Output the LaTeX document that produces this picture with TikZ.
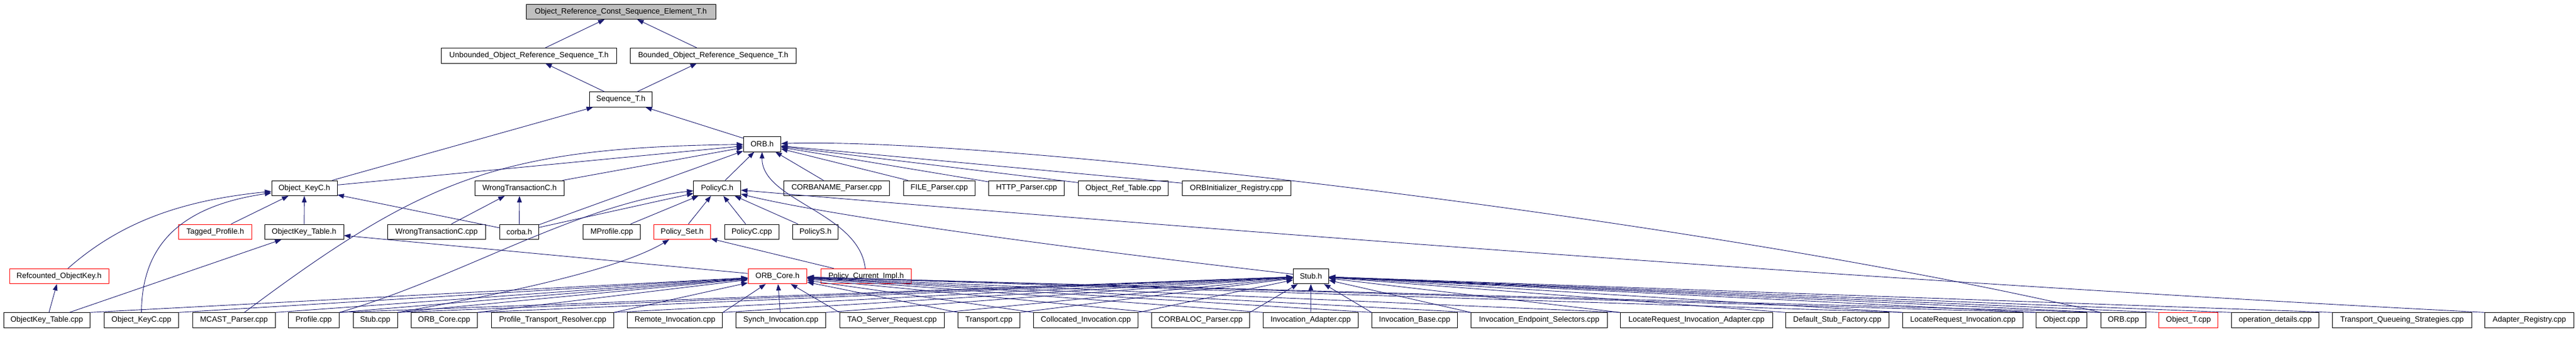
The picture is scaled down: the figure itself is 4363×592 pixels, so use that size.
\documentclass[tikz,border=0pt]{standalone}
\usepackage{fontspec}
\setmainfont{Liberation Sans}
\usetikzlibrary{arrows.meta}
\definecolor{edgeblue}{HTML}{191970}
\definecolor{titlegray}{HTML}{BFBFBF}
\definecolor{boxred}{HTML}{FF0000}
\newcommand\bx[6]{\node[box,#6,minimum width={(#3)-(#2)}] (#1) at ({((#2)+(#3))/2},#4) {#5};}
\begin{document}
\begin{tikzpicture}[x=1pt,y=-1pt,
 box/.style={draw=black,line width=0.9pt,minimum height=25.5pt,inner sep=0pt,font=\fontsize{13}{15}\selectfont,fill=white},
 redbox/.style={draw=boxred},
 edge/.style={draw=edgeblue,line width=0.9pt,-{Triangle[length=11pt,width=8pt]}}]
\useasboundingbox (0,0) rectangle (4363,592);
% level 0-3
\bx{T}{891}{1212}{19.75}{Object\_Reference\_Const\_Sequence\_Element\_T.h}{fill=titlegray}
\bx{U}{747.5}{1044.5}{94.25}{Unbounded\_Object\_Reference\_Sequence\_T.h}{}
\bx{B}{1067.3}{1348.6}{94.25}{Bounded\_Object\_Reference\_Sequence\_T.h}{}
\bx{S}{998.4}{1104.6}{168.5}{Sequence\_T.h}{}
\bx{ORBh}{1259.2}{1322.5}{244.25}{ORB.h}{}
% level 4
\bx{OKC}{460}{571}{318.75}{Object\_KeyC.h}{}
\bx{WTC}{804.3}{955.6}{318.75}{WrongTransactionC.h}{}
\bx{PCh}{1174.9}{1254.5}{318.75}{PolicyC.h}{}
\bx{CORBANAME}{1327.6}{1506.6}{318.75}{CORBANAME\_Parser.cpp}{}
\bx{FILE}{1530.3}{1651.4}{318.75}{FILE\_Parser.cpp}{}
\bx{HTTP}{1674.7}{1802.7}{318.75}{HTTP\_Parser.cpp}{}
\bx{ORT}{1826.4}{1978.7}{318.75}{Object\_Ref\_Table.cpp}{}
\bx{ORBIR}{2002.4}{2186.5}{318.75}{ORBInitializer\_Registry.cpp}{}
% level 5
\bx{TP}{302.6}{426.5}{392.75}{Tagged\_Profile.h}{redbox}
\bx{OKT}{448}{582}{392.75}{ObjectKey\_Table.h}{}
\bx{WTCcpp}{656.5}{822.4}{392.75}{WrongTransactionC.cpp}{}
\bx{corba}{846.6}{912.3}{392.75}{corba.h}{}
\bx{MProfile}{987.7}{1084.6}{392.75}{MProfile.cpp}{}
\bx{PSet}{1107.4}{1203.3}{392.75}{Policy\_Set.h}{redbox}
\bx{PCcpp}{1227}{1319.7}{392.75}{PolicyC.cpp}{}
\bx{PSh}{1342.5}{1419.8}{392.75}{PolicyS.h}{}
% level 6
\bx{ROK}{16}{184}{468}{Refcounted\_ObjectKey.h}{redbox}
\bx{ORBCore}{1267}{1366.7}{468}{ORB\_Core.h}{redbox}
\bx{PCI}{1390.5}{1543.4}{468}{Policy\_Current\_Impl.h}{redbox}
\bx{Stubh}{2190.3}{2250.3}{468}{Stub.h}{}
% level 7
\bx{OKTcpp}{6.5}{152}{542.5}{ObjectKey\_Table.cpp}{}
\bx{OKCcpp}{176.5}{302.6}{542.5}{Object\_KeyC.cpp}{}
\bx{MCAST}{326}{466.5}{542.5}{MCAST\_Parser.cpp}{}
\bx{Profile}{488}{574.5}{542.5}{Profile.cpp}{}
\bx{Stubcpp}{598}{673}{542.5}{Stub.cpp}{}
\bx{ORBCorecpp}{696}{808.5}{542.5}{ORB\_Core.cpp}{}
\bx{PTR}{832.7}{1039.4}{542.5}{Profile\_Transport\_Resolver.cpp}{}
\bx{Remote}{1062.7}{1223.8}{542.5}{Remote\_Invocation.cpp}{}
\bx{Synch}{1246.6}{1398.4}{542.5}{Synch\_Invocation.cpp}{}
\bx{TAOSR}{1422.1}{1599.7}{542.5}{TAO\_Server\_Request.cpp}{}
\bx{Transport}{1622.5}{1727.3}{542.5}{Transport.cpp}{}
\bx{Colloc}{1750.6}{1927.5}{542.5}{Collocated\_Invocation.cpp}{}
\bx{CORBALOC}{1950.3}{2116.5}{542.5}{CORBALOC\_Parser.cpp}{}
\bx{InvAd}{2139.3}{2300.6}{542.5}{Invocation\_Adapter.cpp}{}
\bx{InvBase}{2323.4}{2468.7}{542.5}{Invocation\_Base.cpp}{}
\bx{IES}{2491.5}{2722.4}{542.5}{Invocation\_Endpoint\_Selectors.cpp}{}
\bx{LRIA}{2744.3}{3002.5}{542.5}{LocateRequest\_Invocation\_Adapter.cpp}{}
\bx{DSF}{3024.3}{3199.4}{542.5}{Default\_Stub\_Factory.cpp}{}
\bx{LRI}{3222.7}{3426.6}{542.5}{LocateRequest\_Invocation.cpp}{}
\bx{Objcpp}{3448.5}{3534.6}{542.5}{Object.cpp}{}
\bx{ORBcpp}{3558.4}{3634.5}{542.5}{ORB.cpp}{}
\bx{ObjT}{3656.4}{3756.7}{542.5}{Object\_T.cpp}{redbox}
\bx{OpDet}{3779.6}{3927.5}{542.5}{operation\_details.cpp}{}
\bx{TQS}{3950.4}{4186.4}{542.5}{Transport\_Queueing\_Strategies.cpp}{}
\bx{AdReg}{4208.3}{4359.6}{542.5}{Adapter\_Registry.cpp}{}
% edges upper part
\draw[edge] (U) -- (T);
\draw[edge] (B) -- (T);
\draw[edge] (S) -- (U);
\draw[edge] (S) -- (B);
\draw[edge] (OKC) -- (S);
\draw[edge] (ORBh) -- (S);
\draw[edge] (OKC) -- (ORBh);
\draw[edge] (MCAST) .. controls (720,300) and (850,250) .. (ORBh);
\draw[edge] (WTC) -- (ORBh);
\draw[edge] (corba) -- (ORBh);
\draw[edge] (PCh) -- (ORBh);
\draw[edge] (CORBANAME) -- (ORBh);
\draw[edge] (FILE) -- (ORBh);
\draw[edge] (HTTP) -- (ORBh);
\draw[edge] (ORT) -- (ORBh);
\draw[edge] (ORBIR) -- (ORBh);
\draw[edge] (PCI) .. controls (1455,360) and (1290,340) .. (ORBh);
\draw[edge] (ORBcpp.north west) .. controls (2900,375) and (1700,232) .. (ORBh);
\draw[edge] (ROK) .. controls (200,380) and (300,340) .. (OKC);
\draw[edge] (OKCcpp) .. controls (240,420) and (300,350) .. (OKC);
\draw[edge] (TP) -- (OKC);
\draw[edge] (OKT) -- (OKC);
\draw[edge] (corba) -- (OKC);
\draw[edge] (WTCcpp) -- (WTC);
\draw[edge] (corba) -- (WTC);
\draw[edge] (corba) -- (PCh);
\draw[edge] (Profile.north east) .. controls (780,470) and (980,345) .. (PCh);
\draw[edge] (MProfile) -- (PCh);
\draw[edge] (PSet) -- (PCh);
\draw[edge] (PCcpp) -- (PCh);
\draw[edge] (PSh) -- (PCh);
\draw[edge] (Stubh) .. controls (1800,420) and (1400,365) .. (PCh);
\draw[edge] (AdReg.north west) .. controls (3000,468) and (1700,360) .. (PCh);
\draw[edge] (OKTcpp) -- (OKT);
\draw[edge] (ORBCore) -- (OKT);
\draw[edge] (OKTcpp) -- (ROK);
\draw[edge] (PCI) -- (PSet);
\draw[edge] (Stubcpp.north east) .. controls (900,490) and (1060,450) .. (PSet);
% fan into ORB_Core.h
\foreach \n in {OKTcpp,OKCcpp,MCAST,Profile,Stubcpp,ORBCorecpp,PTR,Remote}
  \draw[edge] (\n.north east) -- (ORBCore);
\draw[edge] (Synch) -- (ORBCore);
\foreach \n in {TAOSR,Transport,Colloc,CORBALOC,InvAd,InvBase,IES,LRIA,LRI,Objcpp,ORBcpp}
  \draw[edge] (\n.north west) -- (ORBCore);
% fan into Stub.h
\foreach \n in {Profile,Stubcpp,ORBCorecpp,PTR,Remote,Synch,TAOSR,Transport,Colloc,CORBALOC}
  \draw[edge] (\n.north east) -- (Stubh);
\draw[edge] (InvAd) -- (Stubh);
\foreach \n in {InvBase,IES,LRIA,DSF,LRI,Objcpp,ORBcpp,ObjT,OpDet,TQS}
  \draw[edge] (\n.north west) -- (Stubh);
\end{tikzpicture}
\end{document}
